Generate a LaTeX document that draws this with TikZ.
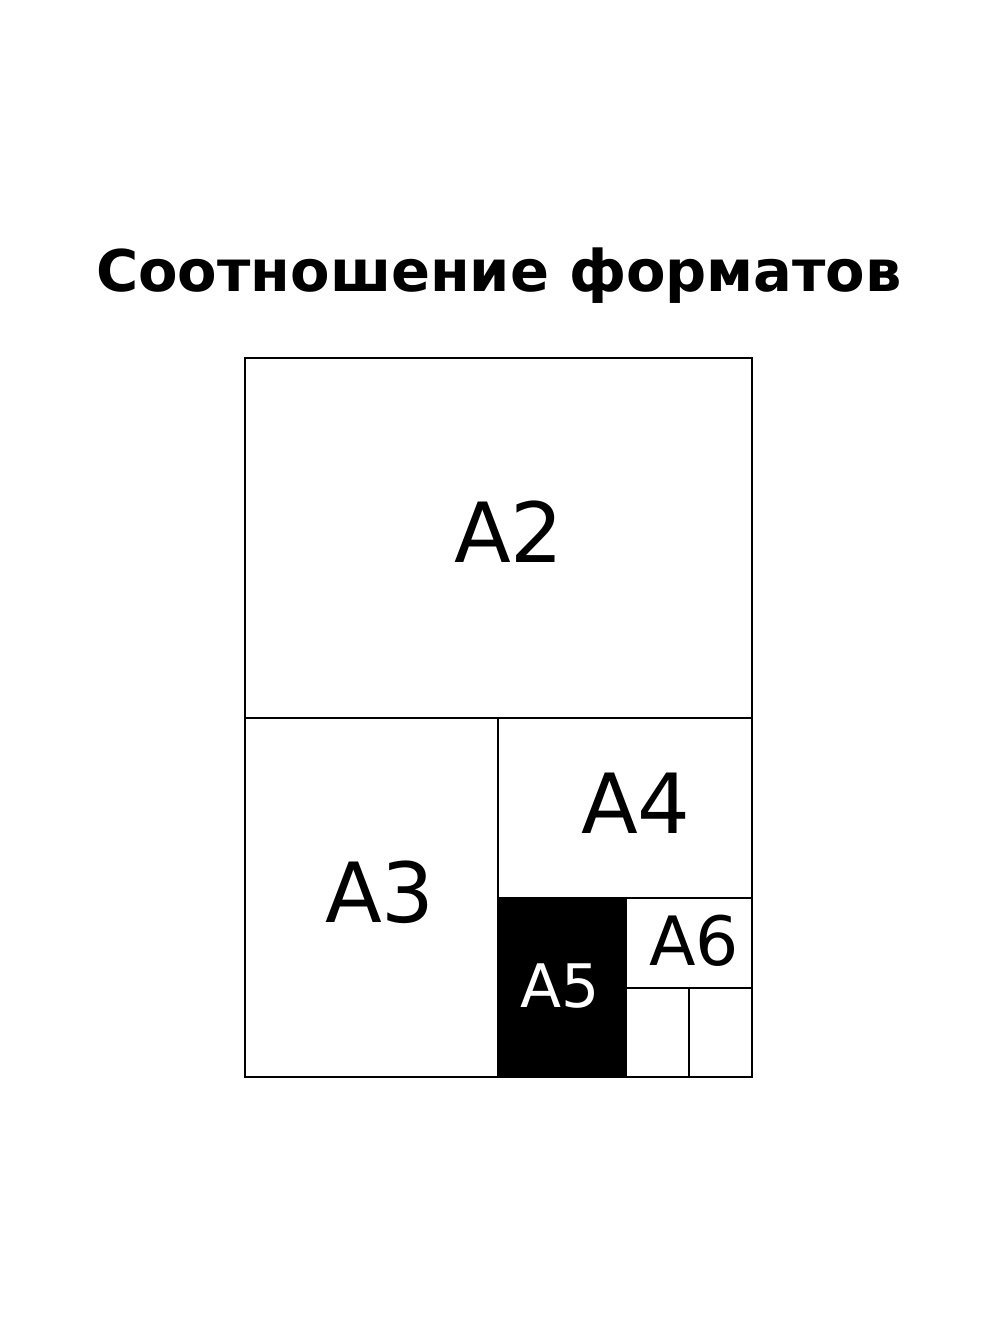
\documentclass[tikz,border=0pt]{standalone}
\usepackage{fontspec}
\setmainfont{DejaVu Sans}
\usetikzlibrary{positioning}
\tikzset{
  sheet/.style={draw=black, line width=1.6pt},
  lbl/.style={anchor=base, inner sep=0pt, font=\fontsize{83}{88}\selectfont}
}

\begin{document}
\begin{tikzpicture}[x=1pt,y=-1pt]
  \useasboundingbox (0,0) rectangle (1000,1333);
  \node (title) [anchor=base, inner sep=0pt, font=\fontsize{57.5}{62}\bfseries] at (499,291) {Соотношение форматов};
  % sheets
  \fill[black] (498,898) rectangle (626,1077);
  \draw[sheet] (245,358) rectangle (752,1077);
  \draw[sheet] (245,718) -- (752,718);
  \draw[sheet] (498,718) -- (498,1077);
  \draw[sheet] (498,898) -- (752,898);
  \draw[sheet] (626,898) -- (626,1077);
  \draw[sheet] (626,988) -- (752,988);
  \draw[sheet] (689,988) -- (689,1077);
  % labels
  \node (a2) [lbl] at (509,562) {A2};
  \node (a3) [lbl] at (380,922) {A3};
  \node (a4) [lbl] at (636,833) {A4};
  \node (a5) [lbl, text=white, font=\fontsize{60}{64}\selectfont] at (560,1007) {A5};
  \node (a6) [lbl, font=\fontsize{68}{72}\selectfont] at (694,965) {A6};
\end{tikzpicture}
\end{document}
